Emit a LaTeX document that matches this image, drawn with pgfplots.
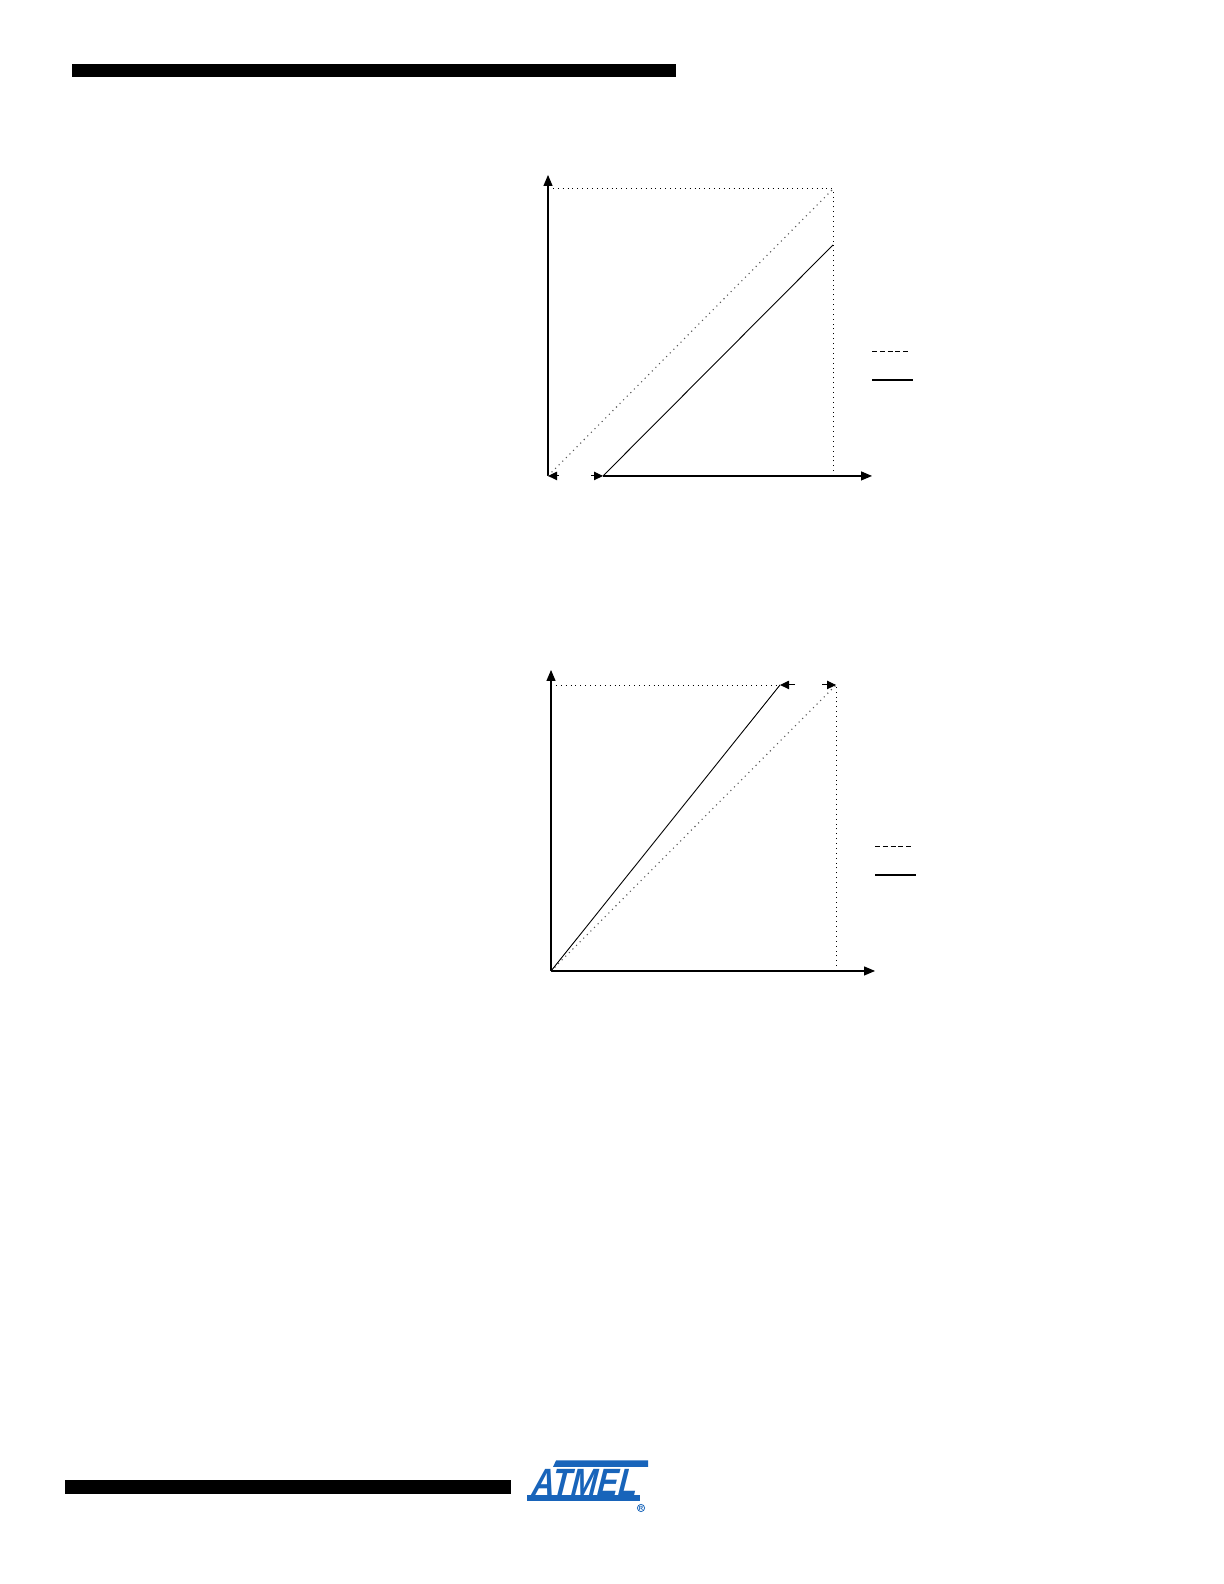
\documentclass[border=0pt]{standalone}
\usepackage{pgfplots}
\pgfplotsset{compat=1.18}
\usetikzlibrary{arrows.meta}
\usepackage{fontspec}
\setmainfont{Liberation Sans}
\definecolor{atmelblue}{RGB}{24,100,186}
\pgfplotsset{
  errplot/.style={
    scale only axis,
    width=162bp, height=150.5bp,
    xmin=0, xmax=324, ymin=0, ymax=301,
    axis x line=bottom, axis y line=left,
    axis line style={line width=0.55bp,-{Triangle[length=5.5bp,width=4.5bp]}},
    xtick=\empty, ytick=\empty,
    clip=false,
    anchor=south west,
  },
  ideal/.style={gray!70!black, line width=0.55bp, dotted},
  frame/.style={black, line width=0.45bp, dotted},
  actual/.style={black, line width=0.45bp},
  small arrow/.style={black, line width=0.5bp, -{Triangle[length=4.5bp,width=4.2bp]}},
  big arrow/.style={black, line width=0.55bp, -{Triangle[length=5.5bp,width=4.5bp]}},
}
\begin{document}
\begin{tikzpicture}[x=0.5bp, y=0.5bp]
\fill[white] (0,0) rectangle (1224,1584);
% header bar
\fill[black] (72,1506.5) rectangle (676,1520);
% footer bar
\fill[black] (65,90) rectangle (511,104);

% ---------- Offset error plot ----------
\begin{axis}[errplot, axis x line=none, at={(548,1108)}]
  \addplot[frame] coordinates {(0,287) (285,287)};
  \addplot[frame] coordinates {(285,0) (285,287)};
  \addplot[ideal] coordinates {(0,0) (285,287)};
  \addplot[actual] coordinates {(55,0) (285,231)};
  % x axis, interrupted by the offset arrows
  \addplot[small arrow] coordinates {(11,0) (0,0)};
  \addplot[small arrow] coordinates {(43,0) (55,0)};
  \addplot[big arrow] coordinates {(55,0) (324,0)};
  % legend samples
  \addplot[black, line width=0.5bp, dash pattern=on 2.5bp off 1.4bp] coordinates {(324,124) (362,124)};
  \addplot[black, line width=0.6bp] coordinates {(324,96) (365,96)};
\end{axis}

% ---------- Gain error plot ----------
\begin{axis}[errplot, at={(551,613)}]
  \addplot[frame] coordinates {(0,286) (229,286)};
  \addplot[frame] coordinates {(285,0) (285,286)};
  \addplot[ideal] coordinates {(0,0) (285,286)};
  \addplot[actual] coordinates {(0,0) (229,286)};
  \addplot[small arrow] coordinates {(244,286) (229,286)};
  \addplot[small arrow] coordinates {(271,286) (285,286)};
  % legend samples
  \addplot[black, line width=0.5bp, dash pattern=on 2.5bp off 1.4bp] coordinates {(324,124) (362,124)};
  \addplot[black, line width=0.6bp] coordinates {(324,96) (365,96)};
\end{axis}

% ---------- logo ----------
\fill[atmelblue] (556,123.5) -- (648,123.5) -- (648,117) -- (553,117) -- cycle;
\node[atmelblue, anchor=center, inner sep=0pt, xslant=0.25, xscale=0.82, yscale=1.0, transform shape,
      font=\fontsize{19bp}{19bp}\selectfont\bfseries] at (586,102) {ATMEL};
\fill[atmelblue] (527,83) rectangle (640,89);
\draw[atmelblue, line width=0.4bp] (641,76) circle (3.6);
\node[atmelblue, inner sep=0pt, font=\fontsize{3bp}{3bp}\selectfont\bfseries] at (641,76) {R};
\end{tikzpicture}
\end{document}
